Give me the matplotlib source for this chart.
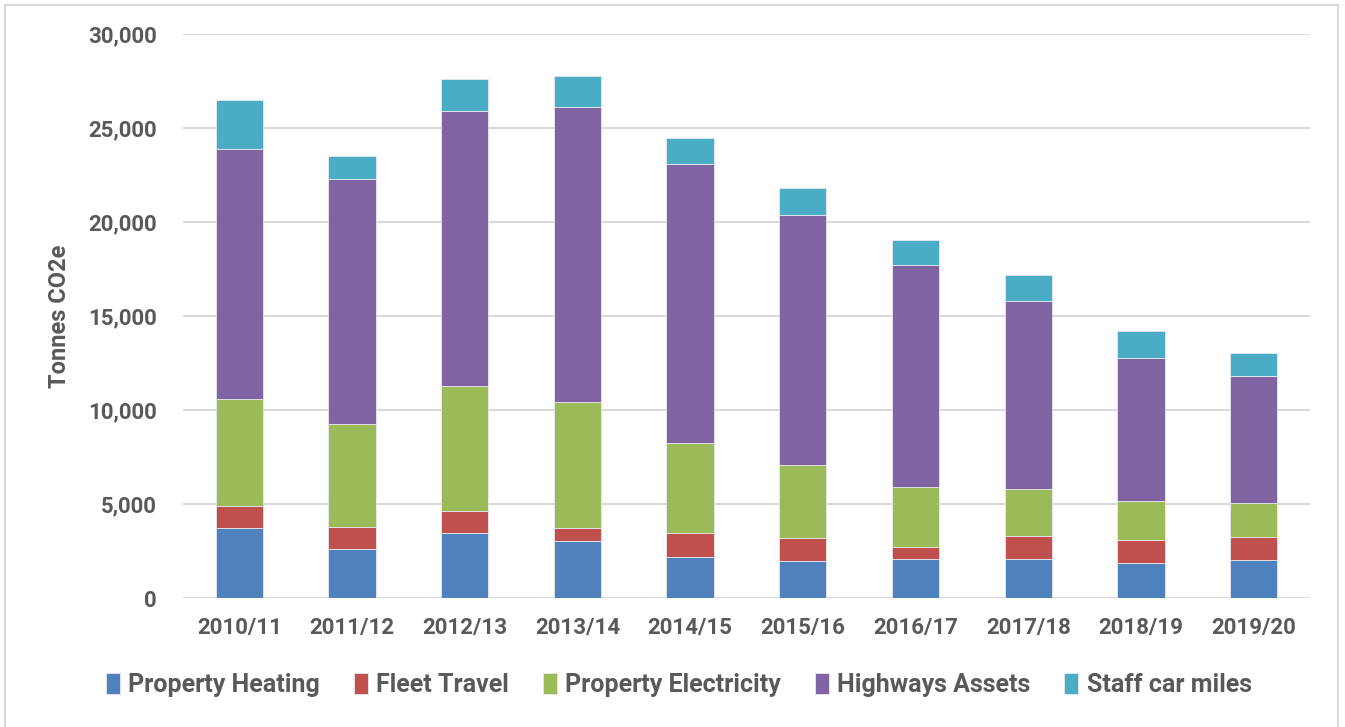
import numpy as np
import matplotlib
matplotlib.use("Agg")
import matplotlib.pyplot as plt
from matplotlib.patches import Rectangle

# categories (financial years)
years = ['2010/11', '2011/12', '2012/13', '2013/14', '2014/15',
         '2015/16', '2016/17', '2017/18', '2018/19', '2019/20']

# series values, tonnes CO2e
heating = [3720, 2620, 3450, 3050, 2200, 1990, 2060, 2080, 1850, 2040]
fleet = [1160, 1140, 1170, 690, 1240, 1210, 660, 1210, 1240, 1190]
electricity = [5700, 5500, 6640, 6690, 4790, 3870, 3200, 2510, 2060, 1830]
highways = [13300, 13020, 14640, 15690, 14840, 13330, 11770, 10010, 7610, 6770]
staff = [2620, 1210, 1710, 1670, 1390, 1420, 1350, 1350, 1420, 1210]

series = [('Property Heating', heating, '#4F81BD'),
          ('Fleet Travel', fleet, '#C0504D'),
          ('Property Electricity', electricity, '#9BBB59'),
          ('Highways Assets', highways, '#8064A2'),
          ('Staff car miles', staff, '#4BACC6')]

plt.rcParams['font.family'] = ['Roboto', 'DejaVu Sans']
grey = '#595959'

fig = plt.figure(figsize=(13.45, 7.27), dpi=100)
ax = fig.add_axes([0.136, 0.1774, 0.838, 0.7758])

# light frame around the chart
fig.patches.append(Rectangle((0.004, -0.01), 0.991, 1.003, transform=fig.transFigure,
                             fill=False, edgecolor='#d9d9d9', linewidth=1.5))

x = np.arange(len(years))
bottom = np.zeros(len(years))
for name, vals, col in series:
    ax.bar(x, vals, width=0.42, bottom=bottom, color=col, label=name,
           edgecolor='#e8e8f0', linewidth=0.6, zorder=3)
    bottom += np.array(vals)

ax.set_xlim(-0.5, len(years) - 0.5)
ax.set_ylim(0, 30000)
ax.set_yticks(np.arange(0, 30001, 5000))
ax.set_yticklabels(['{:,}'.format(v) for v in range(0, 30001, 5000)])
ax.set_xticks(x)
ax.set_xticklabels(years)
ax.grid(axis='y', color='#d9d9d9', linewidth=1.5, zorder=0)
for s in ax.spines.values():
    s.set_visible(False)
ax.tick_params(length=0, labelsize=16, labelcolor=grey)
ax.tick_params(axis='y', pad=19)
ax.tick_params(axis='x', pad=14)
for lab in ax.get_xticklabels() + ax.get_yticklabels():
    lab.set_fontweight('bold')

ax.set_ylabel('Tonnes CO2e', fontsize=17, fontweight='bold', color=grey, labelpad=12)

leg = ax.legend(loc='center', bbox_to_anchor=(0.44, -0.155), ncol=5, frameon=False,
                prop={'size': 18, 'weight': 'bold'}, handlelength=0.55, handleheight=0.9,
                handletextpad=0.35, columnspacing=1.35)
for t in leg.get_texts():
    t.set_color(grey)

plt.savefig('out.png', dpi=100)
